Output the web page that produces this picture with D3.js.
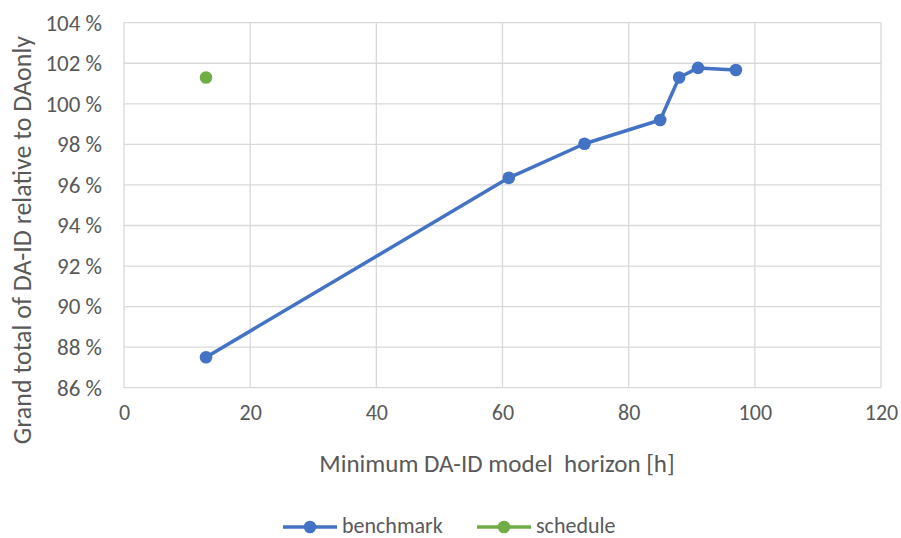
<!DOCTYPE html>
<html><head><meta charset="utf-8">
<script src="https://cdn.jsdelivr.net/npm/d3@7"></script>
<style>body{margin:0;background:#fff}svg{display:block}text{font-family:Carlito,Calibri,Lato,"Open Sans",sans-serif;fill:#595959}</style>
</head><body><svg id="c" width="901" height="538"></svg>
<script>
const benchmarkX = [13, 61, 73, 85, 88, 91, 97];
const benchmarkY = [87.5, 96.35, 98.03, 99.2, 101.3, 101.77, 101.67];
const scheduleX = [13];
const scheduleY = [101.3];
const xTicks = [0, 20, 40, 60, 80, 100, 120];
const yTicks = [86, 88, 90, 92, 94, 96, 98, 100, 102, 104];
const seriesNames = ["benchmark", "schedule"];
const seriesColors = ["#4472C4", "#70AD47"];

const svg = d3.select("#c");
const x = d3.scaleLinear().domain([0, 120]).range([124, 881]);
const y = d3.scaleLinear().domain([86, 104]).range([387.7, 22.7]);

// grid
svg.append("g").selectAll("line").data(yTicks).join("line")
  .attr("x1", x(0)).attr("x2", x(120)).attr("y1", d => y(d)).attr("y2", d => y(d))
  .attr("stroke", "#d9d9d9").attr("stroke-width", 1.3);
svg.append("g").selectAll("line").data(xTicks).join("line")
  .attr("y1", y(86)).attr("y2", y(104)).attr("x1", d => x(d)).attr("x2", d => x(d))
  .attr("stroke", "#d9d9d9").attr("stroke-width", 1.3);

// axes
const yAxis = d3.axisLeft(y).tickValues(yTicks).tickSize(0).tickPadding(22).tickFormat(d => d + " %");
const gy = svg.append("g").attr("transform", `translate(${x(0)},0)`).call(yAxis);
gy.select(".domain").remove();
gy.selectAll("text").style("font-size", "23px").attr("fill", "#595959");

const xAxis = d3.axisBottom(x).tickValues(xTicks).tickSize(0).tickPadding(17);
const gx = svg.append("g").attr("transform", `translate(0,${y(86)})`).call(xAxis);
gx.select(".domain").remove();
gx.selectAll("text").style("font-size", "22px").attr("fill", "#595959");

// titles
svg.append("text").attr("x", 497).attr("y", 472).attr("text-anchor", "middle")
  .style("font-size", "25px").style("white-space", "pre").text("Minimum DA-ID model  horizon [h]");
svg.append("text").attr("transform", "translate(31,240) rotate(-90)").attr("text-anchor", "middle")
  .style("font-size", "26px").text("Grand total of DA-ID relative to DAonly");

// series
const line = d3.line().x(d => x(d[0])).y(d => y(d[1]));
const bData = benchmarkX.map((v, i) => [v, benchmarkY[i]]);
const sData = scheduleX.map((v, i) => [v, scheduleY[i]]);
svg.append("path").datum(bData).attr("d", line).attr("fill", "none")
  .attr("stroke", seriesColors[0]).attr("stroke-width", 3.5).attr("stroke-linejoin", "round");
svg.append("g").selectAll("circle").data(bData).join("circle")
  .attr("cx", d => x(d[0])).attr("cy", d => y(d[1])).attr("r", 6.3).attr("fill", seriesColors[0]);
svg.append("g").selectAll("circle").data(sData).join("circle")
  .attr("cx", d => x(d[0])).attr("cy", d => y(d[1])).attr("r", 6.3).attr("fill", seriesColors[1]);

// legend
const legX = [283, 477];
const lg = svg.append("g").selectAll("g").data(seriesNames).join("g")
  .attr("transform", (d, i) => `translate(${legX[i]},527)`);
lg.append("line").attr("x1", 0).attr("x2", 54).attr("stroke", (d, i) => seriesColors[i]).attr("stroke-width", 3.5);
lg.append("circle").attr("cx", 27).attr("r", 6.3).attr("fill", (d, i) => seriesColors[i]);
lg.append("text").attr("x", 59).attr("y", 6).style("font-size", "22px").text(d => d);
</script></body></html>
